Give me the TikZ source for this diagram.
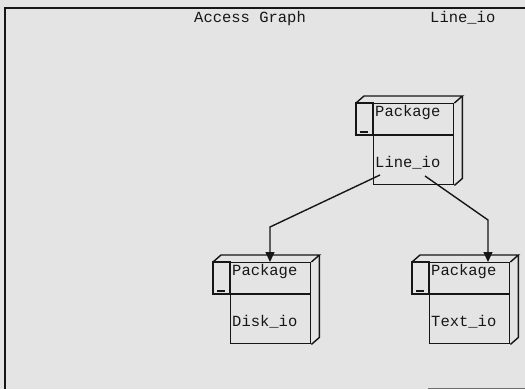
\documentclass[tikz,border=0pt]{standalone}
\usepackage{fontspec}
\setmonofont{Liberation Mono}
\usetikzlibrary{arrows.meta,calc,positioning}
\definecolor{paper}{HTML}{E4E4E4}
\definecolor{ink}{HTML}{161616}
\definecolor{edge}{HTML}{6E6E6E}
\tikzset{
  pkgface/.style={draw=ink,line width=1.4pt,minimum width=80pt,minimum height=81pt,inner sep=0pt,anchor=north west},
  boxline/.style={draw=ink,line width=1.4pt,line join=miter},
  pkgtext/.style={anchor=base west,inner sep=0pt,text=ink,font=\ttfamily\fontsize{15.5}{16}\selectfont},
  link/.style={draw=ink,line width=1.4pt,-{Triangle[length=10pt,width=9pt]}}
}
\newcommand{\pkgbox}[4]{%
  \node[pkgface] (#1) at (#2,#3) {};
  \draw[boxline] ($(#1.north west)+(-17,0)$) rectangle ($(#1.north west)+(0,32)$);
  \draw[boxline] ($(#1.north west)+(-13,29)$) -- ($(#1.north west)+(-5,29)$);
  \draw[boxline] ($(#1.north west)+(-17,0)$) -- ($(#1.north west)+(-9,-7)$) -- ($(#1.north east)+(8,-7)$) -- (#1.north east);
  \draw[boxline] ($(#1.north east)+(8,-7)$) -- ($(#1.south east)+(8,-7)$) -- (#1.south east);
  \draw[boxline] ($(#1.north west)+(0,32)$) -- ($(#1.north east)+(0,32)$);
  \node[pkgtext] (#1-kind) at ($(#1.north west)+(2,13)$) {Package};
  \node[pkgtext] (#1-name) at ($(#1.north west)+(2,64)$) {#4};
}

\begin{document}
\begin{tikzpicture}[x=1pt,y=-1pt]
  \useasboundingbox (0,0) rectangle (525,389);
  \fill[paper] (0,0) rectangle (525,389);
  \draw[ink,line width=1.4pt] (5,389) -- (5,8) -- (525,8);
  \draw[edge,line width=1pt] (428,388.5) -- (525,388.5);

  \node[pkgtext] (title) at (194,22) {Access Graph};
  \node[pkgtext] (unit) at (430,22) {Line\_io};

  \pkgbox{lineio}{373}{103}{Line\_io}
  \pkgbox{diskio}{230}{262}{Disk\_io}
  \pkgbox{textio}{429}{262}{Text\_io}

  \coordinate (bendL) at ($(diskio.north west)+(40,-35)$);
  \coordinate (bendR) at ($(textio.north west)+(59,-42)$);
  \draw[link] ($(lineio.north west)+(7,72)$) -- (bendL) -- ($(diskio.north west)+(40,0)$);
  \draw[link] ($(lineio.north west)+(52,73)$) -- (bendR) -- ($(textio.north west)+(59,0)$);
\end{tikzpicture}
\end{document}
